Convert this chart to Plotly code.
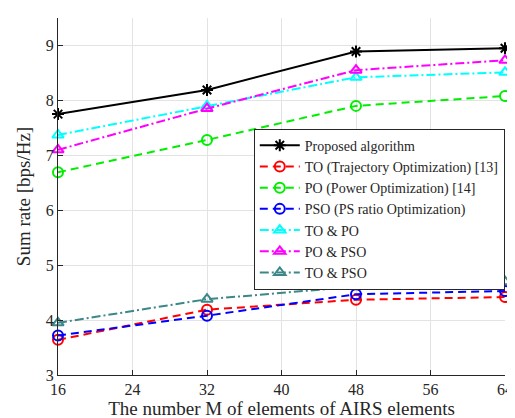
import plotly.graph_objects as go

M = [16, 32, 48, 64]
proposed = [7.75, 8.19, 8.89, 8.95]
to_only = [3.64, 4.19, 4.37, 4.42]
po_only = [6.69, 7.28, 7.90, 8.08]
pso_only = [3.72, 4.08, 4.47, 4.53]
to_po = [7.37, 7.90, 8.42, 8.51]
po_pso = [7.10, 7.85, 8.55, 8.73]
to_pso = [3.95, 4.38, 4.61, 4.70]

names = ["Proposed algorithm", "TO (Trajectory Optimization) [13]", "PO (Power Optimization) [14]",
         "PSO (PS ratio Optimization)", "TO & PO", "PO & PSO", "TO & PSO"]
series = [proposed, to_only, po_only, pso_only, to_po, po_pso, to_pso]
colors = ["black", "#ff0000", "#00ee00", "#0000ff", "#00ffff", "#ff00ff", "#3c8787"]
dashes = ["solid", "8px,5px", "8px,5px", "8px,5px",
          "9px,3px,2px,3px", "9px,3px,2px,3px", "9px,3px,2px,3px"]
symbols = ["asterisk-open", "circle-open", "circle-open", "circle-open",
           "triangle-up-open", "triangle-up-open", "triangle-up-open"]

fig = go.Figure()
for n, s, c, d, sym in zip(names, series, colors, dashes, symbols):
    fig.add_trace(go.Scatter(
        x=M, y=s, name=n, mode="lines+markers", cliponaxis=False,
        line=dict(color=c, width=2, dash=d),
        marker=dict(symbol=sym, size=10, color=c, line=dict(color=c, width=2)),
    ))

font = "Liberation Serif, Times New Roman, serif"
fig.update_layout(
    width=515, height=418,
    margin=dict(l=50, r=12, t=10, b=51),
    paper_bgcolor="white", plot_bgcolor="white",
    font=dict(family=font, size=16, color="#262626"),
    legend=dict(x=0.438, y=0.69, xanchor="left", yanchor="top",
                bordercolor="#262626", borderwidth=1, bgcolor="white",
                font=dict(family=font, size=14, color="#262626"),
                tracegroupgap=0, itemwidth=40),
    xaxis=dict(range=[16, 64], tickvals=[16, 24, 32, 40, 48, 56, 64],
               showgrid=True, gridcolor="#e3e3e3", gridwidth=1,
               showline=True, linecolor="#262626", linewidth=1,
               ticks="inside", ticklen=5, tickcolor="#262626",
               zeroline=False, tickfont=dict(size=16),
               title=dict(text="The number M of elements of AIRS elements", font=dict(size=19), standoff=0)),
    yaxis=dict(range=[3, 9.5], tickvals=[3, 4, 5, 6, 7, 8, 9],
               showgrid=True, gridcolor="#e3e3e3", gridwidth=1,
               showline=True, linecolor="#262626", linewidth=1,
               ticks="inside", ticklen=5, tickcolor="#262626",
               zeroline=False, tickfont=dict(size=16),
               title=dict(text="Sum rate [bps/Hz]", font=dict(size=19), standoff=10)),
)
fig.write_html("out.html")
